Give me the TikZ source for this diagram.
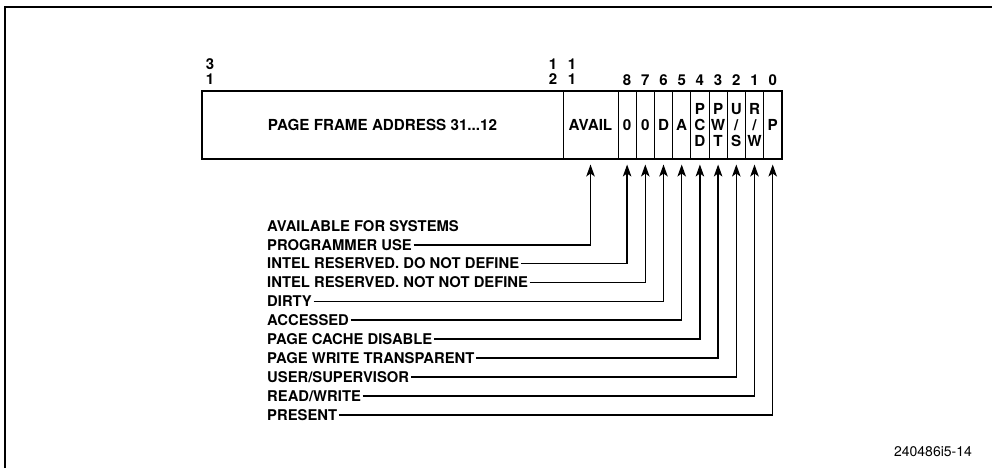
\documentclass[tikz,border=0pt]{standalone}
\usepackage{fontspec}
\setmainfont{TeX Gyre Heros}
\usetikzlibrary{arrows.meta,positioning}

\begin{document}
\begin{tikzpicture}[x=1pt,y=-1pt,
    fld/.style={draw, line width=1pt, minimum height=66pt, inner sep=0pt, align=center, font=\bfseries\fontsize{15.2}{16}\selectfont},
    bitw/.style={fld, minimum width=18.2pt},
    bitno/.style={inner sep=0pt, align=center, font=\bfseries\fontsize{15}{15}\selectfont},
    lbl/.style={anchor=west, inner sep=1.5pt, text depth=0pt, font=\bfseries\fontsize{14.8}{16}\selectfont},
    conn/.style={line width=1.3pt, -{Stealth[length=12pt,width=8.5pt,inset=3pt]}, shorten >=6pt}]
  \useasboundingbox (0,0) rectangle (992,468);
  % page frame
  \draw[line width=2pt] (5,468) -- (5,7) -- (992,7);
  % entry fields
  \node[fld, minimum width=361pt] (addr) at (382.5,125) {PAGE FRAME ADDRESS 31...12};
  \node[fld, minimum width=55pt] (avail) at (590.5,125) {AVAIL};
  \node[bitw] (b8) at (627.1,125) {0};
  \node[bitw] (b7) at (645.3,125) {0};
  \node[bitw] (b6) at (663.5,125) {D};
  \node[bitw] (b5) at (681.7,125) {A};
  \node[bitw] (b4) at (699.9,125) {P\\C\\D};
  \node[bitw] (b3) at (718.1,125) {P\\W\\T};
  \node[bitw] (b2) at (736.3,125) {U\\/\\S};
  \node[bitw] (b1) at (754.5,125) {R\\/\\W};
  \node[bitw] (b0) at (772.7,125) {P};
  \draw[line width=2pt] (addr.north west) rectangle (b0.south east);
  % bit numbers
  \node[bitno] (n31) at (210,72) {3\\1};
  \node[bitno] (n12) at (553,72) {1\\2};
  \node[bitno] (n11) at (572,72) {1\\1};
  \node[bitno] (n8) at (b8 |- 0,80) {8};
  \node[bitno] (n7) at (b7 |- 0,80) {7};
  \node[bitno] (n6) at (b6 |- 0,80) {6};
  \node[bitno] (n5) at (b5 |- 0,80) {5};
  \node[bitno] (n4) at (b4 |- 0,80) {4};
  \node[bitno] (n3) at (b3 |- 0,80) {3};
  \node[bitno] (n2) at (b2 |- 0,80) {2};
  \node[bitno] (n1) at (b1 |- 0,80) {1};
  \node[bitno] (n0) at (b0 |- 0,80) {0};
  % descriptions
  \node[lbl] (avl) at (265.5,226) {AVAILABLE FOR SYSTEMS};
  \node[lbl] (prog) at (265.5,245) {PROGRAMMER USE};
  \node[lbl] (res8) at (265.5,263.5) {INTEL RESERVED. DO NOT DEFINE};
  \node[lbl] (res7) at (265.5,282.5) {INTEL RESERVED. NOT NOT DEFINE};
  \node[lbl] (dirty) at (265.5,301.5) {DIRTY};
  \node[lbl] (acc) at (265.5,320) {ACCESSED};
  \node[lbl] (pcd) at (265.5,339) {PAGE CACHE DISABLE};
  \node[lbl] (pwt) at (265.5,358) {PAGE WRITE TRANSPARENT};
  \node[lbl] (us) at (265.5,377) {USER/SUPERVISOR};
  \node[lbl] (rw) at (265.5,396) {READ/WRITE};
  \node[lbl] (pres) at (265.5,415) {PRESENT};
  % leaders
  \draw[conn] (prog.east) -| (avail.south);
  \draw[conn] (res8.east) -| (b8.south);
  \draw[conn] (res7.east) -| (b7.south);
  \draw[conn] (dirty.east) -| (b6.south);
  \draw[conn] (acc.east) -| (b5.south);
  \draw[conn] (pcd.east) -| (b4.south);
  \draw[conn] (pwt.east) -| (b3.south);
  \draw[conn] (us.east) -| (b2.south);
  \draw[conn] (rw.east) -| (b1.south);
  \draw[conn] (pres.east) -| (b0.south);
  % figure number
  \node[inner sep=0pt, font=\fontsize{14}{16}\selectfont] (fig) at (933,452) {240486i5-14};
\end{tikzpicture}
\end{document}
